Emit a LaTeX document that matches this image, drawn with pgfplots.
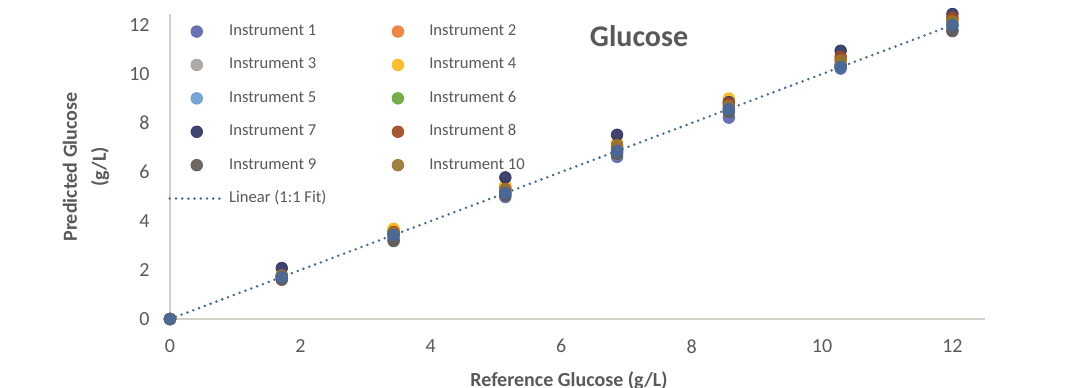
\documentclass[border=0pt]{standalone}
\usepackage{fontspec}
\setmainfont{Carlito}
\usepackage{pgfplots}
\usepackage{pgfplotstable}
\pgfplotsset{compat=1.18}
\definecolor{cI}{HTML}{5A67AE}
\definecolor{cII}{HTML}{ED7D31}
\definecolor{cIII}{HTML}{A8A29E}
\definecolor{cIV}{HTML}{FFB81C}
\definecolor{cV}{HTML}{6C9BD2}
\definecolor{cVI}{HTML}{6AA63C}
\definecolor{cVII}{HTML}{2F3563}
\definecolor{cVIII}{HTML}{9E4A22}
\definecolor{cIX}{HTML}{635B55}
\definecolor{cX}{HTML}{9A7430}
\definecolor{cfit}{HTML}{46699C}
\definecolor{axiscol}{HTML}{D5CFC9}
\definecolor{txt}{HTML}{595959}

\pgfplotstableread{
x      i1    i2    i3    i4    i5    i6    i7    i8    i9    i10   fit
0      0     0     0     0     0     0     0     0     0     0     0
1.714  1.65  1.75  1.70  1.80  1.72  1.72  2.08  1.75  1.60  1.78  1.714
3.429  3.25  3.60  3.40  3.68  3.35  3.42  3.50  3.55  3.18  3.50  3.429
5.143  4.98  5.35  5.20  5.45  5.10  5.15  5.78  5.30  5.05  5.30  5.143
6.857  6.62  7.05  6.90  7.20  6.80  6.85  7.52  7.00  6.75  7.10  6.857
8.571  8.22  8.75  8.60  9.00  8.50  8.60  8.85  8.80  8.45  8.70  8.571
10.286 10.22 10.60 10.40 10.65 10.30 10.30 10.95 10.70 10.35 10.55 10.286
12     11.80 12.20 12.00 12.25 11.95 12.00 12.45 12.30 11.75 12.15 12
}\data

\begin{document}
\begin{tikzpicture}
\begin{axis}[
  scale only axis,
  width=407.5pt, height=152.5pt,
  xmin=0, xmax=12.5, ymin=0, ymax=12.45,
  clip=false,
  axis x line=bottom, axis y line=left,
  axis line style={draw=axiscol, line width=1pt, -},
  major tick length=0pt,
  xtick={0,2,...,12}, ytick={0,2,...,12},
  /pgf/number format/assume math mode=true,
  tick label style={font=\fontsize{10}{12}\selectfont, text=txt},
  yticklabel style={anchor=east, inner sep=0pt, xshift=-10pt},
  xticklabel style={anchor=north, inner sep=0pt, yshift=-10pt},
  legend columns=2,
  legend cell align=left,
  legend image code/.code={\path (0pt,0pt) (27pt,0pt);\draw[mark repeat=2,mark phase=2,#1] plot coordinates {(0pt,0pt)(13.5pt,0pt)(27pt,0pt)};},
  legend style={at={(-0.0025,0.97)}, anchor=north west, draw=none, fill=none,
    inner sep=0pt, font=\fontsize{8.3}{10}\selectfont, text=txt, row sep=8.7pt,
    nodes={inner sep=0pt, text height=6pt, text depth=2pt},
    /tikz/every odd column/.append style={column sep=2pt},
    /tikz/every even column/.append style={column sep=22pt}},
  every axis plot/.append style={only marks, mark=*, mark size=2.9pt, opacity=0.92},
]
\addplot[forget plot, no marks, only marks=false, sharp plot, color=cfit, line width=1.4pt, line cap=round, dash pattern=on 0pt off 3.1pt, opacity=1] table[x=x, y=fit] {\data};
\addplot[color=cI, fill=cI] table[x=x, y=i1] {\data};
\addlegendentry{Instrument 1}
\addplot[color=cII, fill=cII] table[x=x, y=i2] {\data};
\addlegendentry{Instrument 2}
\addplot[color=cIII, fill=cIII] table[x=x, y=i3] {\data};
\addlegendentry{Instrument 3}
\addplot[color=cIV, fill=cIV] table[x=x, y=i4] {\data};
\addlegendentry{Instrument 4}
\addplot[color=cV, fill=cV] table[x=x, y=i5] {\data};
\addlegendentry{Instrument 5}
\addplot[color=cVI, fill=cVI] table[x=x, y=i6] {\data};
\addlegendentry{Instrument 6}
\addplot[color=cVII, fill=cVII] table[x=x, y=i7] {\data};
\addlegendentry{Instrument 7}
\addplot[color=cVIII, fill=cVIII] table[x=x, y=i8] {\data};
\addlegendentry{Instrument 8}
\addplot[color=cIX, fill=cIX] table[x=x, y=i9] {\data};
\addlegendentry{Instrument 9}
\addplot[color=cX, fill=cX] table[x=x, y=i10] {\data};
\addlegendentry{Instrument 10}
\addplot[forget plot, color=cfit, fill=cfit] table[x=x, y=fit] {\data};
\addlegendimage{no marks, only marks=false, sharp plot, color=cfit, line width=1.4pt, line cap=round, dash pattern=on 0pt off 3.1pt, opacity=1}
\addlegendentry{Linear (1:1 Fit)}
\end{axis}
\node[anchor=base, font=\bfseries\fontsize{15}{18}\selectfont, text=txt] at (234.5pt,136.25pt) {Glucose};
\node[anchor=base, font=\bfseries\fontsize{10}{12}\selectfont, text=txt] at (199.5pt,-33.5pt) {Reference Glucose (g/L)};
\node[rotate=90, align=center, font=\bfseries\fontsize{10}{14.5}\selectfont, text=txt] at (-42pt,76pt) {Predicted Glucose\\(g/L)};
\pgfresetboundingbox
\useasboundingbox (-85pt,-34pt) rectangle (455pt,159.5pt);
\end{tikzpicture}
\end{document}
